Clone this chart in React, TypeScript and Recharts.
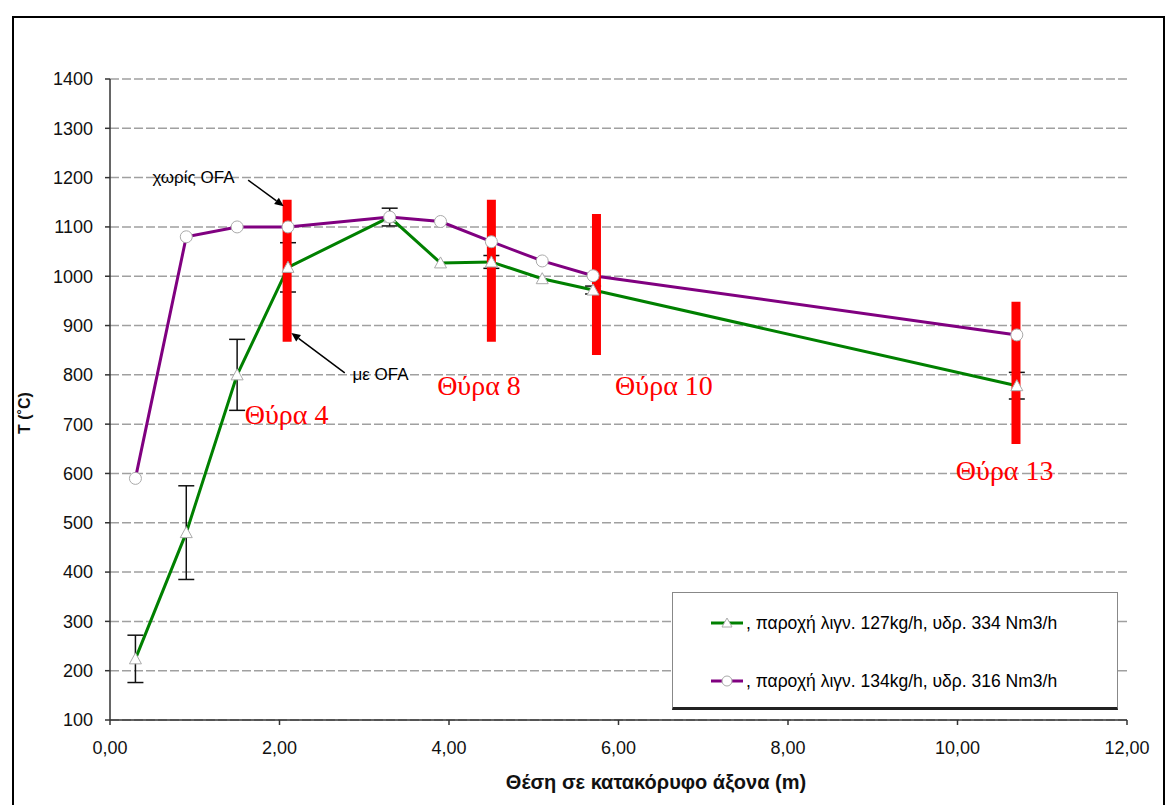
import {
  LineChart,
  Line,
  XAxis,
  YAxis,
  CartesianGrid,
  ErrorBar,
  ReferenceLine,
  ReferenceDot,
  Legend,
  Label,
} from 'recharts';

// position along the vertical axis (m)
const positions = [0.3, 0.9, 1.5, 2.1, 3.3, 3.9, 4.5, 5.1, 5.7, 10.7];
// with OFA: lignite 127 kg/h, hydrogen 334 Nm3/h
const tempSeriesA = [224, 480, 800, 1018, 1120, 1027, 1029, 995, 972, 778];
const errSeriesA = [48, 95, 72, 50, 18, 0, 13, 0, 8, 27];
// lignite 134 kg/h, hydrogen 316 Nm3/h
const tempSeriesB = [590, 1080, 1100, 1100, 1120, 1111, 1070, 1031, 1001, 881];

const seriesNames = [
  ', παροχή λιγν. 127kg/h, υδρ. 334 Nm3/h',
  ', παροχή λιγν. 134kg/h, υδρ. 316 Nm3/h',
];

const xTicks = [0, 2, 4, 6, 8, 10, 12];
const yTicks = [100, 200, 300, 400, 500, 600, 700, 800, 900, 1000, 1100, 1200, 1300, 1400];

// ports (red bars)
const portX = [2.09, 4.5, 5.74, 10.69];
const portTop = [1155, 1155, 1126, 948];
const portBottom = [867, 867, 840, 660];
const portLabels = ['Θύρα 4', 'Θύρα 8', 'Θύρα 10', 'Θύρα 13'];
const portLabelX = [1.59, 3.86, 5.96, 9.98];
const portLabelY = [700, 759, 759, 587];

// OFA notes
const noteLabels = ['χωρίς OFA', 'με OFA'];
const noteX = [0.5, 2.86];
const noteY = [1189, 789];
const arrowFrom = [{ x: 1.63, y: 1195 }, { x: 2.77, y: 804 }];
const arrowTo = [{ x: 2.05, y: 1142 }, { x: 2.14, y: 885 }];

const GREEN = '#008000';
const PURPLE = '#800080';
const SANS = '"Liberation Sans", Arial, sans-serif';

const data = positions.map((x, i) => ({
  x,
  a: tempSeriesA[i],
  aErr: errSeriesA[i],
  b: tempSeriesB[i],
}));

const TriangleDot = (props: any) => {
  const { cx, cy, key } = props;
  if (cx == null || cy == null) return <g key={key} />;
  return (
    <path
      key={key}
      d={`M${cx},${cy - 6} L${cx + 6},${cy + 5} L${cx - 6},${cy + 5} Z`}
      fill="#fff"
      stroke="#aaa"
      strokeWidth={1}
    />
  );
};

const Arrow = (props: any) => {
  const { x1, y1, x2, y2 } = props;
  const ang = Math.atan2(y2 - y1, x2 - x1);
  const len = 9;
  const w = 4;
  const bx = x2 - len * Math.cos(ang);
  const by = y2 - len * Math.sin(ang);
  const px = -Math.sin(ang) * w;
  const py = Math.cos(ang) * w;
  return (
    <g>
      <line x1={x1} y1={y1} x2={bx} y2={by} stroke="#000" strokeWidth={1.5} />
      <path d={`M${x2},${y2} L${bx + px},${by + py} L${bx - px},${by - py} Z`} fill="#000" />
    </g>
  );
};

const XTick = (p: any) => (
  <text x={p.x} y={p.y} dy="0.71em" textAnchor="middle" fontSize={18} fill="#111" fontFamily={SANS}>
    {Number(p.payload.value).toFixed(2).replace('.', ',')}
  </text>
);

const YTick = (p: any) => (
  <text x={p.x} y={p.y} dy="0.355em" textAnchor="end" fontSize={18} fill="#111" fontFamily={SANS}>
    {p.payload.value}
  </text>
);

const LegendBox = () => (
  <div
    style={{
      width: 446,
      height: 118,
      boxSizing: 'border-box',
      border: '1px solid #888',
      borderBottom: '3px solid #222',
      background: '#fff',
      fontFamily: SANS,
      fontSize: 17.5,
      color: '#000',
      paddingTop: 20,
    }}
  >
    {seriesNames.map((name, i) => (
      <div key={name} style={{ display: 'flex', alignItems: 'center', height: 20, marginBottom: i === 0 ? 38 : 0 }}>
        <svg width={36} height={20} style={{ marginLeft: 37, marginRight: 0 }}>
          <line x1={1} y1={10} x2={33} y2={10} stroke={i === 0 ? GREEN : PURPLE} strokeWidth={3} />
          {i === 0 ? (
            <path d="M17,5 L22,14 L12,14 Z" fill="#fff" stroke="#aaa" />
          ) : (
            <circle cx={17} cy={10} r={5} fill="#fff" stroke="#aaa" />
          )}
        </svg>
        <span style={{ whiteSpace: 'nowrap' }}>{name}</span>
      </div>
    ))}
  </div>
);

export default function App() {
  return (
    <div style={{ position: 'relative', width: 1166, height: 805, background: '#fff', overflow: 'hidden' }}>
      <style>{'body{margin:0}'}</style>
      <LineChart
        width={1166}
        height={805}
        data={data}
        margin={{ top: 79, right: 39, bottom: 55, left: 48 }}
      >
        <CartesianGrid vertical={false} stroke="#a0a0a0" strokeWidth={1.5} strokeDasharray="9 3" />
        <XAxis
          dataKey="x"
          type="number"
          domain={[0, 12]}
          ticks={xTicks}
          tick={XTick}
          tickSize={5}
          tickMargin={16}
          height={30}
          stroke="#333"
          strokeWidth={1.5}
        >
          <Label
            content={(p: any) => {
              const vb = p.viewBox || { x: 110, y: 720, width: 1017, height: 30 };
              return (
                <text
                  x={656}
                  y={vb.y + vb.height + 39}
                  textAnchor="middle"
                  fontSize={20}
                  fontWeight="bold"
                  fill="#111"
                  fontFamily={SANS}
                >
                  Θέση σε κατακόρυφο άξονα (m)
                </text>
              );
            }}
          />
        </XAxis>
        <YAxis
          type="number"
          domain={[100, 1400]}
          ticks={yTicks}
          tick={YTick}
          tickSize={5}
          tickMargin={12}
          width={62}
          stroke="#333"
          strokeWidth={1.5}
          interval={0}
        >
          <Label
            content={() => (
              <text
                x={30}
                y={413}
                transform="rotate(-90, 30, 413)"
                textAnchor="middle"
                fontSize={16}
                fontWeight="bold"
                fill="#111"
                fontFamily={SANS}
              >
                T (˚C)
              </text>
            )}
          />
        </YAxis>
        <Legend
          layout="vertical"
          align="center"
          verticalAlign="middle"
          wrapperStyle={{ left: 672, top: 592, width: 446, height: 118 }}
          content={() => <LegendBox />}
        />
        <Line
          dataKey="a"
          name={seriesNames[0]}
          stroke={GREEN}
          strokeWidth={3}
          dot={TriangleDot}
          activeDot={false}
          isAnimationActive={false}
        >
          <ErrorBar dataKey="aErr" direction="y" width={8} stroke="#111" strokeWidth={1.5} />
        </Line>
        <Line
          dataKey="b"
          name={seriesNames[1]}
          stroke={PURPLE}
          strokeWidth={3}
          dot={{ r: 6, fill: '#fff', stroke: '#aaa', strokeWidth: 1 }}
          activeDot={false}
          isAnimationActive={false}
        />
        {portX.map((x, i) => (
          <ReferenceLine
            key={`port-${i}`}
            segment={[
              { x, y: portBottom[i] },
              { x, y: portTop[i] },
            ]}
            stroke="#ff0000"
            strokeWidth={9}
          />
        ))}
        {portLabels.map((t, i) => (
          <ReferenceDot
            key={`plabel-${i}`}
            x={portLabelX[i]}
            y={portLabelY[i]}
            r={0}
            shape={(p: any) => (
              <text
                x={p.cx}
                y={p.cy}
                fill="#ff0000"
                fontSize={28}
                fontFamily='"Liberation Serif", "Times New Roman", serif'
              >
                {t}
              </text>
            )}
          />
        ))}
        {noteLabels.map((t, i) => (
          <ReferenceDot
            key={`note-${i}`}
            x={noteX[i]}
            y={noteY[i]}
            r={0}
            shape={(p: any) => (
              <text x={p.cx} y={p.cy} fill="#000" fontSize={17} fontFamily={SANS}>
                {t}
              </text>
            )}
          />
        ))}
        {arrowFrom.map((from, i) => (
          <ReferenceLine key={`arrow-${i}`} segment={[from, arrowTo[i]]} shape={Arrow} />
        ))}
      </LineChart>
      <div
        style={{
          position: 'absolute',
          left: 12,
          top: 16,
          width: 1153,
          height: 820,
          boxSizing: 'border-box',
          border: '2px solid #000',
          pointerEvents: 'none',
        }}
      />
    </div>
  );
}
